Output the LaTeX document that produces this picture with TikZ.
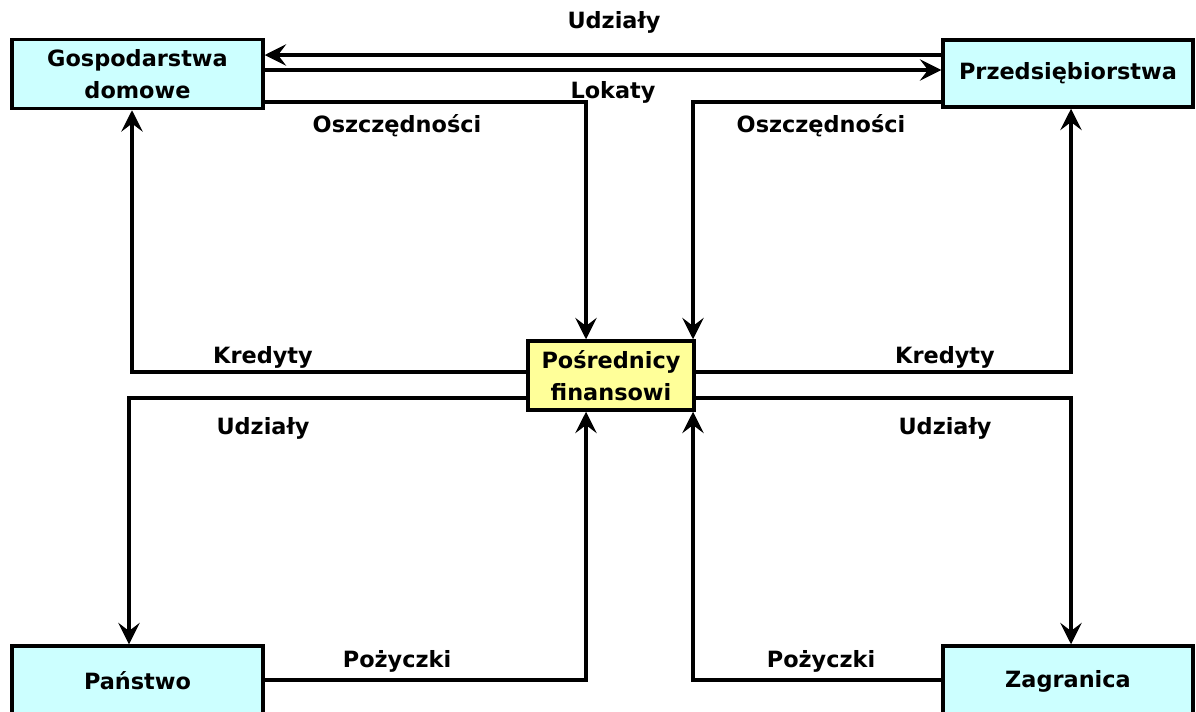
\documentclass[tikz,border=0pt]{standalone}
\usepackage{fontspec}
\setmainfont{DejaVu Sans}
\usetikzlibrary{arrows.meta}
\definecolor{boxcyan}{HTML}{CCFFFF}
\definecolor{boxyellow}{HTML}{FFFF99}
\begin{document}
\begin{tikzpicture}[x=0.75pt,y=-0.75pt,
  every node/.style={font=\bfseries\fontsize{16.8}{23.5}\selectfont, text=black},
  sector/.style={draw=black, line width=2.6pt, fill=boxcyan, align=center,
    inner sep=0pt},
  hub/.style={draw=black, line width=2.6pt, fill=boxyellow, align=center,
    inner sep=0pt},
  flow/.style={draw=black, line width=2.5pt,
    -{Stealth[length=16pt,width=16pt,inset=6pt]}},
  lbl/.style={inner sep=0pt}]
\useasboundingbox (0,0) rectangle (1196,711);

% sectors and the intermediary
\node[sector, minimum width=251*0.75pt, minimum height=69*0.75pt] (gd) at (137.5,74)
  {Gospodarstwa\\domowe};
\node[sector, minimum width=250*0.75pt, minimum height=67*0.75pt] (pr) at (1068,73.5)
  {Przedsiębiorstwa};
\node[hub, minimum width=166*0.75pt, minimum height=69*0.75pt] (pf) at (611,375.5)
  {Pośrednicy\\finansowi};
\node[sector, minimum width=251*0.75pt, minimum height=70*0.75pt] (pa) at (137.5,681)
  {\raisebox{-1pt}{Państwo}};
\node[sector, minimum width=250*0.75pt, minimum height=70*0.75pt] (za) at (1068,681)
  {\raisebox{-1pt}{Zagranica}};

% levels and columns of the connectors
\coordinate (yU) at (0,55);
\coordinate (yL) at (0,70);
\coordinate (yO) at (0,102);
\coordinate (yK) at (0,372);
\coordinate (yD) at (0,398);
\coordinate (yP) at (0,680);
\coordinate (xA) at (586,0);
\coordinate (xB) at (693,0);
\coordinate (xK) at (132,0);
\coordinate (xD) at (129,0);
\coordinate (xR) at (1071,0);

% flows between households and firms
\draw[flow] (pr.west |- yU) -- (gd.east |- yU);
\draw[flow] (gd.east |- yL) -- (pr.west |- yL);

% savings into the intermediary
\draw[flow] (gd.east |- yO) -| (pf.north -| xA);
\draw[flow] (pr.west |- yO) -| (pf.north -| xB);

% credits and shares out of the intermediary
\draw[flow] (pf.west |- yK) -| (gd.south -| xK);
\draw[flow] (pf.west |- yD) -| (pa.north -| xD);
\draw[flow] (pf.east |- yK) -| (pr.south -| xR);
\draw[flow] (pf.east |- yD) -| (za.north -| xR);

% loans into the intermediary
\draw[flow] (pa.east |- yP) -| (pf.south -| xA);
\draw[flow] (za.west |- yP) -| (pf.south -| xB);

% labels
\node[lbl] (l1) at (614,22) {Udziały};
\node[lbl] (l2) at (613,92) {Lokaty};
\node[lbl] (l3) at (397,126) {Oszczędności};
\node[lbl] (l4) at (821,126) {Oszczędności};
\node[lbl] (l5) at (263,357) {Kredyty};
\node[lbl] (l6) at (945,357) {Kredyty};
\node[lbl] (l7) at (263,428) {Udziały};
\node[lbl] (l8) at (945,428) {Udziały};
\node[lbl] (l9) at (397,661) {Pożyczki};
\node[lbl] (l10) at (821,661) {Pożyczki};
\end{tikzpicture}
\end{document}
